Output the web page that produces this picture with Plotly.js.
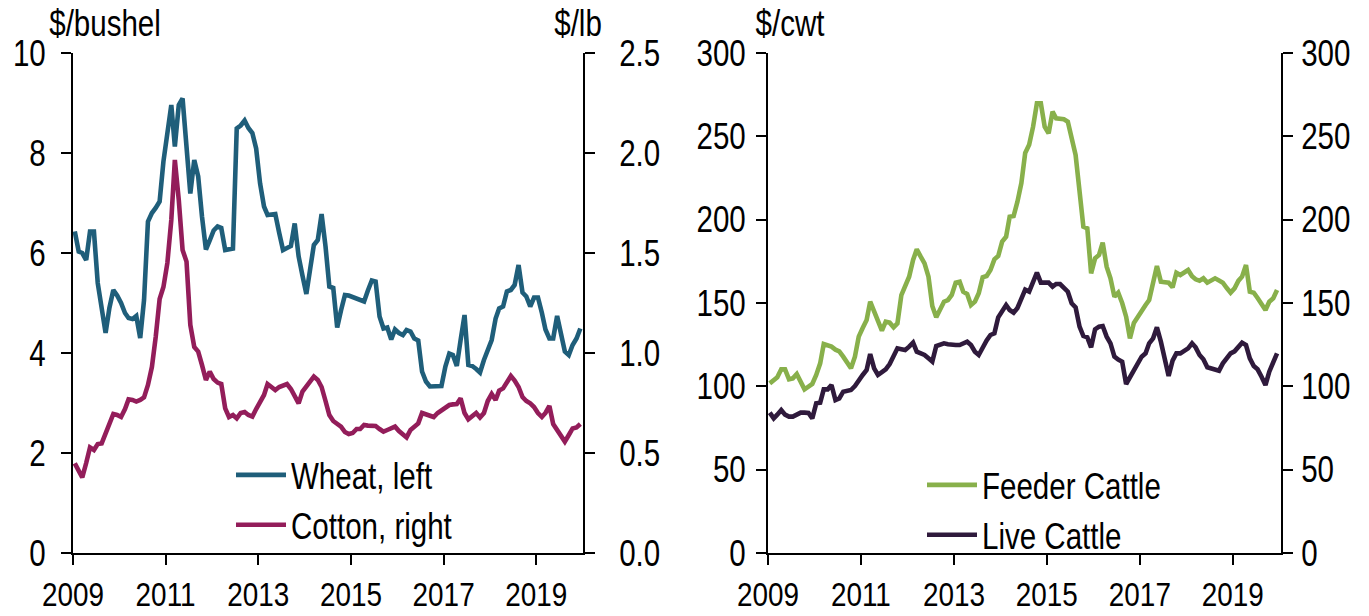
<!DOCTYPE html>
<html>
<head>
<meta charset="utf-8">
<script src="https://cdn.plot.ly/plotly-3.0.1.min.js"></script>
<style>html,body{margin:0;padding:0;background:#fff;}#chart{width:1369px;height:616px;}</style>
</head>
<body>
<div id="chart"></div>
<script>
// Monthly series, Jan 2009 - Dec 2019
const startYear = 2009;
const wheat = [
  6.43, 6.03, 6.0, 5.86, 6.43, 6.43, 5.4, 4.9, 4.4, 4.9, 5.26, 5.15,
  5.0, 4.8, 4.7, 4.68, 4.74, 4.3, 5.06, 6.63, 6.8, 6.9, 7.03, 7.83,
  8.4, 8.96, 8.13, 8.96, 9.09, 8.1, 7.19, 7.86, 7.53, 6.73, 6.07, 6.25,
  6.45, 6.53, 6.5, 6.06, 6.08, 6.09, 8.49, 8.55, 8.65, 8.5, 8.4, 8.09,
  7.39, 6.93, 6.76, 6.78, 6.78, 6.4, 6.06, 6.1, 6.14, 6.59, 5.93, 5.55,
  5.18, 5.7, 6.16, 6.26, 6.78, 6.13, 5.33, 5.3, 4.51, 4.85, 5.16, 5.15,
  5.12, 5.1, 5.05, 5.03, 5.25, 5.45, 5.43, 4.73, 4.49, 4.51, 4.27, 4.47,
  4.4, 4.36, 4.46, 4.43, 4.29, 4.25, 3.63, 3.43, 3.33, 3.33, 3.34, 3.34,
  3.73, 3.99, 3.96, 3.74, 4.26, 4.76, 3.76, 3.74, 3.68, 3.61, 3.86, 4.05,
  4.26, 4.69, 4.89, 4.93, 5.23, 5.26, 5.36, 5.76, 5.21, 5.13, 4.93, 5.11,
  5.11, 4.8, 4.47, 4.29, 4.29, 4.74, 4.33, 4.03, 3.96, 4.16, 4.29, 4.49
];
const cotton = [
  0.448, 0.41, 0.378, 0.45, 0.528, 0.515, 0.545, 0.548, 0.598, 0.64, 0.695, 0.69,
  0.68, 0.72, 0.768, 0.765, 0.757, 0.765, 0.778, 0.84, 0.93, 1.08, 1.27, 1.33,
  1.45, 1.665, 1.965, 1.765, 1.515, 1.457, 1.14, 1.03, 1.007, 0.94, 0.865, 0.907,
  0.87, 0.852, 0.845, 0.723, 0.68, 0.69, 0.673, 0.70, 0.705, 0.69, 0.682, 0.72,
  0.757, 0.79, 0.845, 0.83, 0.815, 0.83, 0.838, 0.845, 0.82, 0.78, 0.748, 0.807,
  0.83, 0.855, 0.882, 0.865, 0.83, 0.76, 0.69, 0.66, 0.645, 0.632, 0.605, 0.595,
  0.60, 0.62, 0.62, 0.64, 0.637, 0.637, 0.635, 0.62, 0.607, 0.615, 0.625, 0.632,
  0.61, 0.59, 0.578, 0.615, 0.628, 0.648, 0.70, 0.695, 0.685, 0.68, 0.70, 0.715,
  0.73, 0.74, 0.743, 0.745, 0.773, 0.70, 0.668, 0.685, 0.70, 0.678, 0.70, 0.76,
  0.795, 0.765, 0.812, 0.823, 0.85, 0.885, 0.862, 0.83, 0.78, 0.76, 0.748, 0.73,
  0.70, 0.68, 0.70, 0.735, 0.645, 0.615, 0.59, 0.557, 0.59, 0.623, 0.628, 0.645
];
const feeder = [
  101.8, 103.5, 105.4, 110.2, 110.2, 104.2, 104.8, 107.4, 102.5, 98.2, 99.8, 101.4,
  106.8, 113.8, 125.4, 124.5, 123.8, 122.0, 121.0, 117.8, 114.8, 110.8, 117.8, 129.8,
  135.0, 139.8, 150.8, 144.8, 139.0, 133.4, 138.8, 138.2, 135.4, 137.8, 154.8, 160.0,
  165.8, 175.8, 182.2, 177.8, 173.8, 165.8, 148.2, 141.4, 146.8, 150.8, 151.8, 154.8,
  162.2, 162.8, 156.8, 155.4, 148.8, 150.8, 155.8, 165.4, 166.2, 169.8, 176.2, 178.2,
  186.8, 189.8, 201.8, 202.2, 210.8, 222.0, 240.0, 245.0, 255.8, 269.8, 269.8, 255.8,
  251.8, 264.8, 260.8, 260.5, 260.2, 258.8, 249.0, 238.8, 217.0, 195.8, 194.8, 167.8,
  176.8, 178.8, 186.2, 171.8, 164.8, 153.8, 156.2, 150.0, 141.8, 128.8, 138.0, 141.8,
  145.8, 148.8, 151.8, 162.8, 172.2, 162.8, 162.2, 162.2, 159.4, 168.2, 166.8, 168.0,
  169.8, 166.0, 164.2, 163.4, 164.8, 162.2, 163.5, 164.8, 163.5, 162.2, 159.0, 156.2,
  158.8, 163.4, 165.8, 172.8, 156.8, 156.2, 153.0, 149.8, 145.8, 150.8, 152.8, 157.8
];
const live = [
  84.2, 80.8, 83.0, 85.8, 83.0, 81.8, 81.8, 83.0, 84.2, 84.2, 84.0, 80.8,
  89.8, 90.2, 98.2, 98.2, 100.8, 91.8, 92.8, 96.8, 97.3, 97.8, 100.2, 103.8,
  106.8, 109.8, 119.4, 110.8, 106.8, 108.5, 110.2, 113.4, 117.8, 122.8, 122.3, 121.8,
  123.8, 126.2, 120.8, 119.8, 118.8, 116.8, 114.8, 124.2, 125.0, 125.8, 125.3, 124.8,
  124.8, 124.8, 125.8, 126.8, 124.8, 120.8, 118.8, 123.8, 127.5, 130.8, 131.8, 141.4,
  144.8, 148.8, 145.8, 144.2, 147.0, 152.0, 158.0, 156.8, 162.8, 168.2, 162.2, 162.2,
  162.2, 159.8, 161.4, 161.4, 159.0, 156.8, 149.8, 147.4, 135.8, 130.2, 129.4, 123.4,
  134.2, 135.8, 136.2, 129.8, 125.8, 117.8, 116.0, 114.8, 101.4, 105.5, 109.8, 114.0,
  117.8, 119.8, 125.8, 128.8, 135.4, 126.8, 116.8, 106.2, 115.4, 119.8, 119.8, 121.5,
  122.8, 125.8, 123.4, 118.8, 116.2, 111.4, 110.8, 110.2, 109.4, 113.8, 116.5, 119.8,
  121.0, 123.8, 126.2, 124.8, 116.8, 112.2, 110.2, 105.8, 100.8, 108.8, 115.4, 119.8
];
const seriesNames = ['Wheat, left', 'Cotton, right', 'Feeder Cattle', 'Live Cattle'];
const unitLabels = ['$/bushel', '$/lb', '$/cwt'];
const xTickLabels = ['2009', '2011', '2013', '2015', '2017', '2019'];

// dates (mid-month)
const dates = [];
for (let i = 0; i < wheat.length; i++) {
  const y = startYear + Math.floor(i / 12);
  const m = (i % 12) + 1;
  dates.push(y + '-' + (m < 10 ? '0' + m : m) + '-15');
}
const tickVals = xTickLabels.map(t => t + '-01-01');

const FONT = 'Liberation Sans Narrow, Arial Narrow, Liberation Sans, Arial, sans-serif';
const FS = 36;
const NARROW = 0.82; // horizontal condensing of text to mimic a narrow face
const W = 1369, H = 616;
const px = v => v / W;
const py = v => (H - v) / H;

const colors = {wheat: '#1F5E7A', cotton: '#931D5A', feeder: '#88B04B', live: '#2F1A3C'};
const LW = 4.6;

const traces = [
  {x: dates, y: wheat, name: seriesNames[0], type: 'scatter', mode: 'lines',
   line: {color: colors.wheat, width: LW}, xaxis: 'x', yaxis: 'y', legend: 'legend'},
  {x: dates, y: cotton, name: seriesNames[1], type: 'scatter', mode: 'lines',
   line: {color: colors.cotton, width: LW}, xaxis: 'x', yaxis: 'y2', legend: 'legend'},
  {x: dates, y: feeder, name: seriesNames[2], type: 'scatter', mode: 'lines',
   line: {color: colors.feeder, width: LW}, xaxis: 'x2', yaxis: 'y3', legend: 'legend2'},
  {x: dates, y: live, name: seriesNames[3], type: 'scatter', mode: 'lines',
   line: {color: colors.live, width: LW}, xaxis: 'x2', yaxis: 'y4', legend: 'legend2'}
];

const yDom = [py(553), py(53)];
const axisCommon = {
  showline: true, linecolor: '#000', linewidth: 2,
  ticks: 'outside', ticklen: 10, tickwidth: 2, tickcolor: '#000',
  showgrid: false, zeroline: false,
  tickfont: {family: FONT, size: FS, color: '#000'},
  fixedrange: true
};
const xCommon = Object.assign({}, axisCommon, {
  type: 'date', tickmode: 'array', tickvals: tickVals, ticktext: xTickLabels,
  ticklabelstandoff: 0, tickfont: {family: FONT, size: 34, color: '#000'}
});

const layout = {
  width: W, height: H,
  margin: {l: 0, r: 0, t: 0, b: 0},
  paper_bgcolor: '#fff', plot_bgcolor: 'rgba(0,0,0,0)',
  font: {family: FONT, size: FS, color: '#000'},
  showlegend: true,
  xaxis: Object.assign({}, xCommon, {domain: [px(73), px(583)], anchor: 'y',
    range: ['2009-01-01', '2020-01-05']}),
  xaxis2: Object.assign({}, xCommon, {domain: [px(768), px(1281)], anchor: 'y3',
    range: ['2009-01-01', '2020-01-15']}),
  yaxis: Object.assign({}, axisCommon, {domain: yDom, anchor: 'x', range: [0, 10],
    tickmode: 'linear', tick0: 0, dtick: 2, ticklabelstandoff: 8}),
  yaxis2: Object.assign({}, axisCommon, {domain: yDom, anchor: 'x', overlaying: 'y',
    side: 'right', range: [0, 2.5], tickmode: 'linear', tick0: 0, dtick: 0.5,
    tickformat: '.1f', ticklabelstandoff: 17}),
  yaxis3: Object.assign({}, axisCommon, {domain: yDom, anchor: 'x2', range: [0, 300],
    tickmode: 'linear', tick0: 0, dtick: 50, ticklabelstandoff: 3}),
  yaxis4: Object.assign({}, axisCommon, {domain: yDom, anchor: 'x2', overlaying: 'y3',
    side: 'right', range: [0, 300], tickmode: 'linear', tick0: 0, dtick: 50,
    ticklabelstandoff: 1}),
  legend: {x: px(231), y: py(445), xanchor: 'left', yanchor: 'top',
    bgcolor: 'rgba(0,0,0,0)', borderwidth: 0, itemwidth: 50,
    font: {family: FONT, size: FS, color: '#000'}, tracegroupgap: 0, traceorder: 'normal'},
  legend2: {x: px(922), y: py(455), xanchor: 'left', yanchor: 'top',
    bgcolor: 'rgba(0,0,0,0)', borderwidth: 0, itemwidth: 50,
    font: {family: FONT, size: FS, color: '#000'}, tracegroupgap: 0, traceorder: 'normal'},
  annotations: [
    {text: unitLabels[0], xref: 'paper', yref: 'paper', x: px(105), y: py(23),
     xanchor: 'center', yanchor: 'middle', showarrow: false, font: {family: FONT, size: FS, color: '#000'}},
    {text: unitLabels[1], xref: 'paper', yref: 'paper', x: px(578), y: py(23),
     xanchor: 'center', yanchor: 'middle', showarrow: false, font: {family: FONT, size: FS, color: '#000'}},
    {text: unitLabels[2], xref: 'paper', yref: 'paper', x: px(790), y: py(23),
     xanchor: 'center', yanchor: 'middle', showarrow: false, font: {family: FONT, size: FS, color: '#000'}}
  ]
};

function condenseText(gd) {
  gd.querySelectorAll('svg text').forEach(function (el) {
    const len = el.getComputedTextLength();
    if (len > 0) {
      el.setAttribute('textLength', (len * NARROW).toFixed(2));
      el.setAttribute('lengthAdjust', 'spacingAndGlyphs');
    }
  });
}

Plotly.newPlot('chart', traces, layout, {displayModeBar: false, staticPlot: true})
  .then(function (gd) { condenseText(gd); });
</script>
</body>
</html>
